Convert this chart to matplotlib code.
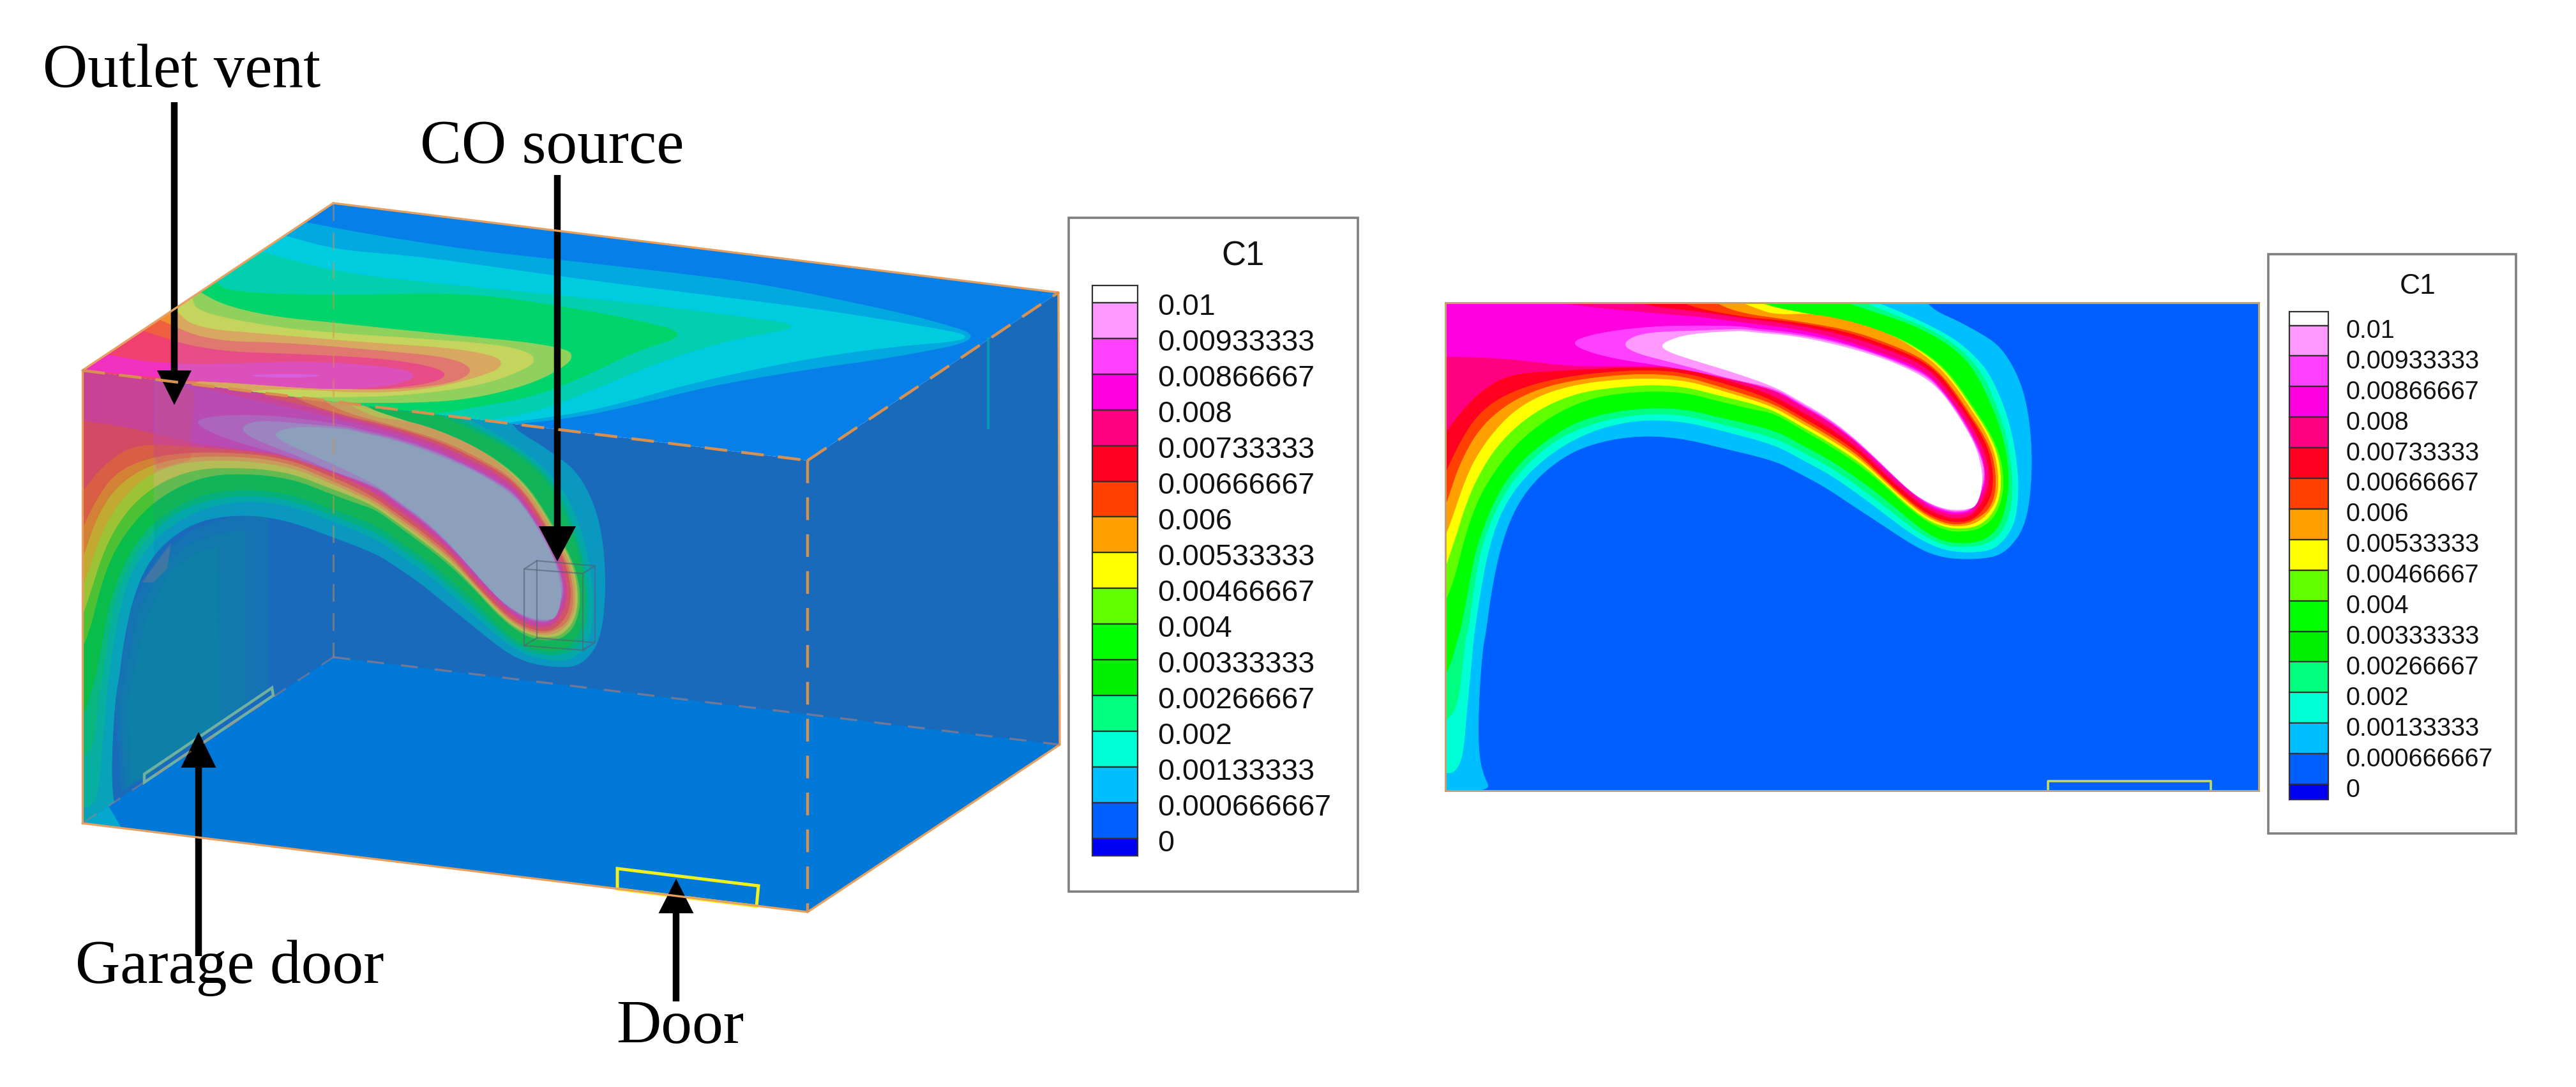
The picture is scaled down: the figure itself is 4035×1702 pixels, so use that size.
import numpy as np
import matplotlib
matplotlib.use("Agg")
import matplotlib.pyplot as plt
from matplotlib.patches import Polygon, Rectangle, FancyArrow
from matplotlib.transforms import Affine2D

W, H = 4035, 1702

# ---------- legend data ----------
level_labels = ["0.01", "0.00933333", "0.00866667", "0.008", "0.00733333", "0.00666667",
                "0.006", "0.00533333", "0.00466667", "0.004", "0.00333333", "0.00266667",
                "0.002", "0.00133333", "0.000666667", "0"]
legend_colors = ["#ffffff", "#ff99ff", "#ff40ff", "#ff00e0", "#ff0080", "#ff0020", "#ff4000",
                 "#ffa000", "#ffff00", "#60ff00", "#00ff00", "#00f000", "#00ff80", "#00ffd5",
                 "#00bfff", "#0060ff", "#0000f0"]

# ---------- iso-outlines of C1 in the mid plane, read from the flat view (x right, y down) ----------
c_000667 = [(0,764),(71,764),(61,743),(54,719),(51,676),(53,609),(58,543),(64,511),(71,457),(84,391),(103,334),(129,291),(163,257),(203,231),(249,216),(296,209),(336,209),(379,214),(429,226),(516,247),(553,266),(596,289),(636,316),(676,342),(709,364),(736,381),(763,394),(796,401),(836,401),(866,396),(886,381),(903,357),(913,324),(918,274),(918,224),(913,174),(903,131),(886,94),(866,67),(843,51),(803,29),(769,14),(754,0)]
c_001333 = [(0,736),(13,736),(24,719),(29,693),(33,643),(38,593),(44,526),(46,511),(54,457),(66,391),(84,334),(109,291),(143,254),(183,224),(229,201),(279,187),(329,183),(379,187),(429,199),(516,222),(556,244),(603,269),(649,301),(689,331),(723,357),(756,377),(789,389),(829,391),(859,386),(879,367),(893,341),(898,291),(894,241),(884,191),(869,147),(849,107),(829,84),(803,61),(769,41),(723,19),(676,0)]
c_002000 = [(0,653),(13,643),(21,616),(26,576),(31,526),(36,511),(43,457),(54,391),(71,341),(96,291),(129,251),(169,217),(216,194),(269,179),(329,173),(379,177),(429,189),(516,211),(556,232),(603,257),(649,289),(689,319),(723,346),(756,369),(789,382),(829,382),(856,374),(874,356),(886,324),(889,284),(884,237),(874,191),(859,151),(841,111),(816,81),(786,57),(749,37),(703,19),(656,0)]
c_002667 = [(0,583),(9,563),(19,526),(24,511),(34,457),(46,391),(63,341),(86,291),(119,247),(159,214),(209,184),(269,169),(329,164),(379,167),(429,179),(516,199),(556,221),(603,246),(649,277),(689,307),(723,336),(756,362),(789,376),(829,376),(853,366),(869,347),(879,314),(883,277),(878,231),(866,187),(849,147),(829,107),(803,77),(769,54),(729,34),(676,16),(626,0)]
c_004000 = [(0,466),(6,453),(16,424),(24,391),(38,341),(59,291),(93,241),(129,204),(176,171),(229,149),(279,141),(329,138),(379,141),(429,154),(479,166),(516,173),(556,197),(603,224),(649,254),(689,287),(723,319),(756,344),(789,358),(819,358),(843,351),(863,331),(873,301),(874,267),(866,231),(849,197),(829,167),(809,137),(786,107),(756,81),(709,54),(649,34),(576,21),(519,9),(499,0)]
c_004667 = [(0,414),(9,387),(19,357),(29,324),(46,281),(73,234),(109,194),(156,161),(213,139),(279,131),(329,128),(379,132),(429,145),(479,157),(516,169),(556,192),(603,219),(649,249),(689,284),(723,316),(756,341),(789,353),(819,353),(841,346),(859,327),(869,301),(870,267),(863,231),(846,197),(826,167),(806,137),(783,107),(753,81),(706,54),(646,32),(576,19),(513,7),(491,0)]
c_005333 = [(0,364),(9,341),(19,311),(31,277),(46,244),(73,204),(109,167),(156,141),(213,126),(279,119),(329,118),(379,122),(429,136),(479,151),(516,164),(556,187),(603,214),(649,244),(689,281),(723,312),(756,337),(789,350),(819,349),(838,341),(855,324),(865,301),(866,267),(859,231),(843,197),(823,167),(803,137),(779,107),(749,81),(703,52),(643,31),(576,17),(516,19),(489,10),(463,0)]
c_006000 = [(0,317),(9,291),(19,261),(33,231),(49,204),(73,177),(109,151),(156,131),(213,119),(279,112),(329,111),(379,116),(429,131),(479,146),(516,159),(556,182),(603,209),(649,240),(689,278),(723,309),(756,334),(789,347),(816,346),(834,337),(851,324),(861,301),(862,267),(855,232),(839,201),(819,171),(799,141),(776,112),(746,87),(699,66),(636,44),(569,32),(516,24),(479,19),(446,11),(423,0)]
c_006667 = [(0,266),(13,237),(29,207),(49,177),(76,154),(109,137),(156,122),(213,112),(279,106),(329,105),(379,110),(429,124),(479,139),(516,154),(556,177),(603,204),(649,235),(689,276),(723,306),(756,331),(789,343),(816,343),(833,334),(848,316),(856,297),(858,267),(851,232),(836,201),(816,171),(796,141),(773,112),(743,89),(696,69),(633,47),(566,34),(516,27),(479,24),(429,16),(396,9),(369,0)]
c_007333 = [(0,204),(16,181),(39,154),(66,131),(93,116),(129,109),(179,106),(213,104),(279,101),(329,101),(379,104),(429,117),(479,132),(516,146),(556,169),(603,196),(649,229),(689,269),(723,299),(756,324),(789,337),(813,337),(829,329),(844,306),(851,284),(851,261),(844,232),(829,201),(811,171),(789,141),(766,112),(736,92),(689,72),(626,51),(559,37),(503,29),(463,24),(396,14),(329,7),(303,0)]
c_008000 = [(0,84),(79,86),(129,91),(196,99),(263,99),(329,99),(379,101),(429,112),(479,127),(516,137),(556,161),(603,187),(649,223),(689,262),(723,292),(756,319),(789,331),(813,331),(828,324),(840,301),(846,281),(845,257),(838,231),(823,201),(804,171),(783,141),(759,114),(729,97),(683,79),(619,57),(553,42),(489,34),(463,31),(396,22),(329,17),(246,9),(166,0)]
c_008667 = [(198,62),(216,74),(263,87),(329,97),(396,108),(516,135),(556,159),(603,186),(649,221),(689,259),(723,291),(756,316),(789,328),(813,328),(826,322),(838,299),(845,279),(844,257),(836,231),(821,201),(803,171),(781,141),(758,116),(726,99),(679,81),(616,61),(549,47),(486,41),(463,37),(396,36),(329,37),(263,44),(223,52)]
c_009333 = [(278,65),(296,78),(346,91),(396,104),(446,119),(516,133),(556,157),(603,183),(649,220),(689,258),(723,290),(756,314),(789,326),(813,326),(824,321),(836,297),(843,278),(843,257),(834,231),(819,201),(801,171),(779,141),(756,117),(724,101),(678,82),(615,63),(548,50),(484,44),(463,41),(396,44),(329,46),(296,52)]
c_010000 = [(336,66),(349,77),(396,92),(446,107),(516,131),(556,154),(596,177),(636,207),(676,244),(709,277),(736,301),(763,316),(789,324),(813,324),(833,319),(843,277),(833,231),(818,201),(799,171),(778,141),(753,119),(721,102),(676,84),(613,66),(546,52),(483,47),(463,44),(396,48),(363,54)]

plane_outlines = [c_000667, c_001333, c_002000, c_002667, c_004000, c_004667, c_005333,
                  c_006000, c_006667, c_007333, c_008000, c_008667, c_009333, c_010000]
plane_closed = [False]*11 + [True]*3
flat_colors = ["#00bfff", "#00ffd5", "#00ff80", "#00ff00", "#60ff00", "#ffff00", "#ffa000",
               "#ff4000", "#ff0020", "#ff0080", "#ff00e0", "#ff40ff", "#ff99ff", "#ffffff"]
glass_colors = ["#0a98c0", "#05a8a8", "#06b07c", "#12b45a", "#62ba50", "#b4bc58", "#c89c5c",
                "#d07858", "#d05468", "#c8469a", "#b84cb4", "#ac64bc", "#9c84c0", "#8ca0bc"]
vivid_colors = ["#08a8b8", "#08b498", "#08bc70", "#0cc030", "#70c428", "#c8c438", "#d89c30",
                "#dc6c38", "#dc4c50", "#d04074", "#c440b0", "#c040c0", "#b060c0", "#a080c0"]

# ---------- iso-outlines on the ceiling, read directly from the perspective view ----------
t1 = [(477,348),(577,367),(730,391),(883,408),(1036,425),(1189,444),(1342,475),(1457,501),(1548,530),(1403,559),(1265,578),(1112,604),(990,635),(898,654),(806,664)]
t2 = [(445,369),(528,392),(653,401),(883,434),(1112,463),(1265,482),(1418,506),(1548,530),(1380,544),(1227,568),(1074,602),(959,635),(883,650),(790,662)]
t3 = [(408,394),(528,427),(700,446),(883,463),(1036,480),(1170,497),(1265,511),(1150,530),(1036,565),(930,610),(840,645),(760,658)]
t4 = [(337,441),(360,458),(528,463),(730,458),(883,480),(997,501),(1082,523),(997,549),(921,587),(837,621),(730,640),(680,648)]
t5 = [(314,458),(350,478),(426,496),(528,506),(630,517),(732,527),(834,537),(885,547),(897,555),(890,570),(834,601),(732,626),(630,631),(528,630)]
t6 = [(300,466),(309,489),(426,512),(528,522),(681,532),(783,540),(829,552),(838,563),(829,575),(758,603),(630,620),(503,622),(452,621)]
t7 = [(273,484),(304,514),(426,524),(579,537),(707,545),(773,557),(788,568),(773,583),(681,608),(579,616),(452,608),(390,612)]
t8 = [(248,500),(324,534),(452,537),(605,550),(707,560),(745,580),(707,601),(605,611),(477,606),(324,593),(300,601)]
t9 = [(222,518),(324,550),(477,555),(605,562),(681,575),(702,588),(671,601),(579,611),(452,603),(298,596),(240,594)]
t10 = [(166,555),(248,570),(375,570),(477,565),(620,575),(656,588),(620,603),(528,611),(375,600),(273,593),(171,583)]
t11 = [(375,588),(450,585),(518,588),(450,592)]
top_outlines = [t1, t2, t3, t4, t5, t6, t7, t8, t9, t10]
top_colors = ["#02a8e0", "#00cce0", "#02cfb0", "#02d46c", "#90d05c", "#c4d45c", "#d8a860",
              "#e07870", "#e84c86", "#dc50bc"]
top_vivid = ["#02a8e0", "#00cce0", "#02cfb0", "#02d46c", "#d8d830", "#e0c030", "#f09030",
             "#f06040", "#f04070", "#f030c0"]

# ---------- room geometry ----------
A, B, C, D = (129,580), (522,318), (1658,458), (1265,721)
E, F, G, Hh = (129,1289), (522,1029), (1660,1166), (1265,1428)
garage_door = [(226,1212),(426,1077),(428,1089),(226,1225)]
door3d = [(967,1360),(1188,1387),(1185,1419),(967,1392)]
box_top = [(821,891),(841,878),(932,886),(913,898)]
box_bottom = [(821,1011),(841,999),(932,1006),(913,1018)]
wall_tints = [[(190,1240),(180,1100),(205,950),(245,875),(300,830),(360,810),(420,805),(420,1080),(300,1165),(230,1215)],
              [(195,1235),(188,1100),(215,960),(255,885),(300,850),(345,835),(385,830),(385,1105),(300,1165),(230,1215)],
              [(205,1225),(200,1100),(228,970),(262,900),(300,870),(340,855),(345,1130),(300,1165),(230,1210)]]

annotations = [("Outlet vent", 67, 136), ("CO source", 658, 255), ("Garage door", 118, 1539), ("Door", 965, 1633)]


def smooth(points, closed=False, rounds=3):
    p = np.asarray(points, float)
    for _ in range(rounds):
        if closed:
            q = np.roll(p, -1, axis=0)
            p = np.column_stack([0.75*p + 0.25*q, 0.25*p + 0.75*q]).reshape(-1, 2)
        else:
            a, b = p[:-1], p[1:]
            mid = np.column_stack([0.75*a + 0.25*b, 0.25*a + 0.75*b]).reshape(-1, 2)
            p = np.vstack([p[:1], mid, p[-1:]])
    return p


def draw_outlines(ax, outlines, closed, colors, transform, clip=None, alpha=None):
    for pts, cl, col in zip(outlines, closed, colors):
        if cl:
            p = smooth(pts, True)
        else:
            p = np.vstack([smooth(pts), [(0, 0)]])
        patch = Polygon(p, closed=True, fc=col, ec=col, lw=0.6, transform=transform, alpha=alpha)
        ax.add_patch(patch)
        if clip is not None:
            patch.set_clip_path(clip)


def legend(ax, box, bar, tops, step, top_h, bot_h, lab_x, lab_y0, lab_step, fs, title_xy, tfs):
    x0, y0, x1, y1 = box
    ax.add_patch(Rectangle((x0, y0), x1-x0, y1-y0, fc="white", ec="#7f7f7f", lw=2.6))
    ax.text(title_xy[0], title_xy[1], "C1", ha="center", va="center", fontsize=tfs,
            family="Liberation Sans", color="#111111")
    bx0, bx1 = bar
    ys = [tops - top_h] + [tops + i*step for i in range(16)] + [tops + 15*step + bot_h]
    for i, col in enumerate(legend_colors):
        ax.add_patch(Rectangle((bx0, ys[i]), bx1-bx0, ys[i+1]-ys[i], fc=col, ec="#303030", lw=1.6))
    for i, lab in enumerate(level_labels):
        ax.text(lab_x, lab_y0 + i*lab_step, lab, ha="left", va="center", fontsize=fs,
                family="Liberation Sans", color="#111111")


fig = plt.figure(figsize=(W/100, H/100), dpi=100, facecolor="white")
ax = fig.add_axes([0, 0, 1, 1])
ax.set_xlim(0, W)
ax.set_ylim(H, 0)
ax.axis("off")

# --- perspective view ---
ax.add_patch(Polygon([D, C, G, Hh], closed=True, fc="#1a6abc", ec="none"))
ax.add_patch(Polygon([A, D, Hh, E], closed=True, fc="#1a6abc", ec="none"))

sx = (D[0]-A[0]) / 1274
sy = (D[1]-A[1]) / 1274
vy = (E[1]-A[1]) / 764
plane_tf = Affine2D.from_values(sx, sy, 0, vy, A[0], A[1]) + ax.transData
draw_outlines(ax, plane_outlines, plane_closed, glass_colors, plane_tf)

# the side wall seen through the plane: stronger colours on the left, soft teal inside
strip = Rectangle((129, 500), 112, 900, transform=ax.transData)
draw_outlines(ax, plane_outlines, plane_closed, vivid_colors, plane_tf, clip=strip, alpha=0.65)
for poly in wall_tints:
    ax.add_patch(Polygon(poly, closed=True, fc="#00a088", ec="none", alpha=0.16))
ax.add_patch(Polygon([(242,600),(305,610),(298,720),(245,735)], closed=True, fc="#e05050", ec="none", alpha=0.22))
ax.add_patch(Polygon([(222,912),(268,850),(262,890),(240,912)], closed=True, fc="#807e90", ec="none", alpha=0.4))

# floor
ax.add_patch(Polygon([E, F, G, Hh], closed=True, fc="#0078d7", ec="none"))
ax.add_patch(Polygon([(129,1289),(170,1262),(190,1296)], closed=True, fc="#04a8cc", ec="none"))

# ceiling
top_face = Polygon([A, B, C, D], closed=True, fc="#0680e8", ec="none")
ax.add_patch(top_face)
for pts, col in zip(top_outlines, top_colors):
    p = np.vstack([smooth(pts), [A]])
    patch = Polygon(p, closed=True, fc=col, ec=col, lw=0.6)
    ax.add_patch(patch)
    patch.set_clip_path(top_face)
top_left = Polygon([A, (273, 484), (273, 598)], closed=True, fc="none", ec="none", transform=ax.transData)
for pts, col in zip(top_outlines, top_vivid):
    p = np.vstack([smooth(pts), [A]])
    patch = Polygon(p, closed=True, fc=col, ec=col, lw=0.6)
    ax.add_patch(patch)
    patch.set_clip_path(top_left)
ax.add_patch(Polygon(smooth(t11, True), closed=True, fc="#d860e0", ec="none"))

# faint vertical edge of the room seen through the ceiling and plume
ax.plot([522, 522], [318, 1029], color="#d89050", lw=2.2, ls=(0, (9, 6)), alpha=0.45)
ax.plot([1548, 1548], [530, 670], color="#08a0b8", lw=3.2, alpha=0.8)

# room edges
edge = "#e8a060"
for p, q in [(A, B), (B, C), (C, G), (E, Hh), (Hh, G), (A, E)]:
    ax.plot([p[0], q[0]], [p[1], q[1]], color=edge, lw=2.4, solid_capstyle="round")
dash = dict(color="#d89050", lw=3.2, ls=(0, (8, 5)))
ax.plot([A[0], D[0]], [A[1], D[1]], **dash)
ax.plot([D[0], D[0]], [D[1], Hh[1]], **dash)
ax.plot([D[0], C[0]], [D[1], C[1]], **dash)
ax.plot([F[0], G[0]], [F[1], G[1]], color="#c08070", lw=2.4, ls=(0, (8, 8)), alpha=0.55)
ax.plot([F[0], E[0]], [F[1], E[1]], color="#c08070", lw=2.0, ls=(0, (8, 8)), alpha=0.45)

# source box and openings
for poly in (box_top, box_bottom):
    ax.add_patch(Polygon(poly, closed=True, fc="none", ec="#556070", lw=1.6, alpha=0.6))
for p, q in zip(box_top, box_bottom):
    ax.plot([p[0], q[0]], [p[1], q[1]], color="#556070", lw=1.6, alpha=0.6)
ax.add_patch(Polygon(garage_door, closed=True, fc="none", ec="#70b0a0", lw=3.2))
ax.add_patch(Polygon(door3d, closed=True, fc="none", ec="#f0f020", lw=3.6))

# arrows
for x, y0, y1, hw, hl in [(273, 160, 634, 54, 54), (873, 274, 879, 58, 55),
                          (311, 1497, 1146, 55, 56), (1059, 1568, 1376, 55, 54)]:
    ax.add_patch(FancyArrow(x, y0, 0, y1-y0, width=10.5, head_width=hw, head_length=hl,
                            length_includes_head=True, fc="black", ec="black", lw=0))

for txt, x, y in annotations:
    ax.text(x, y, txt, ha="left", va="baseline", fontsize=70, family="Liberation Serif", color="black")

legend(ax, (1674, 341, 2127, 1396), (1711, 1782), 474, 55.9, 27, 27, 1813, 481, 56.0, 33.5, (1947, 401), 38)
legend(ax, (3553, 398, 3941, 1305), (3586, 3647), 509.5, 47.9, 22, 24, 3674, 518, 47.9, 28.5, (3787, 449), 32)

# --- flat view ---
ax2 = fig.add_axes([2264/W, 1-1238/H, 1274/W, 764/H])
ax2.set_xlim(0, 1274)
ax2.set_ylim(764, 0)
ax2.set_xticks([])
ax2.set_yticks([])
ax2.set_facecolor("#0060ff")
for s in ax2.spines.values():
    s.set_color("#c8a070")
    s.set_linewidth(2.2)
draw_outlines(ax2, plane_outlines, plane_closed, flat_colors, ax2.transData)
ax2.plot([944, 944, 1199, 1199], [764, 749, 749, 764], color="#c8d860", lw=2.6)

fig.savefig("out.png", dpi=100, facecolor="white")
